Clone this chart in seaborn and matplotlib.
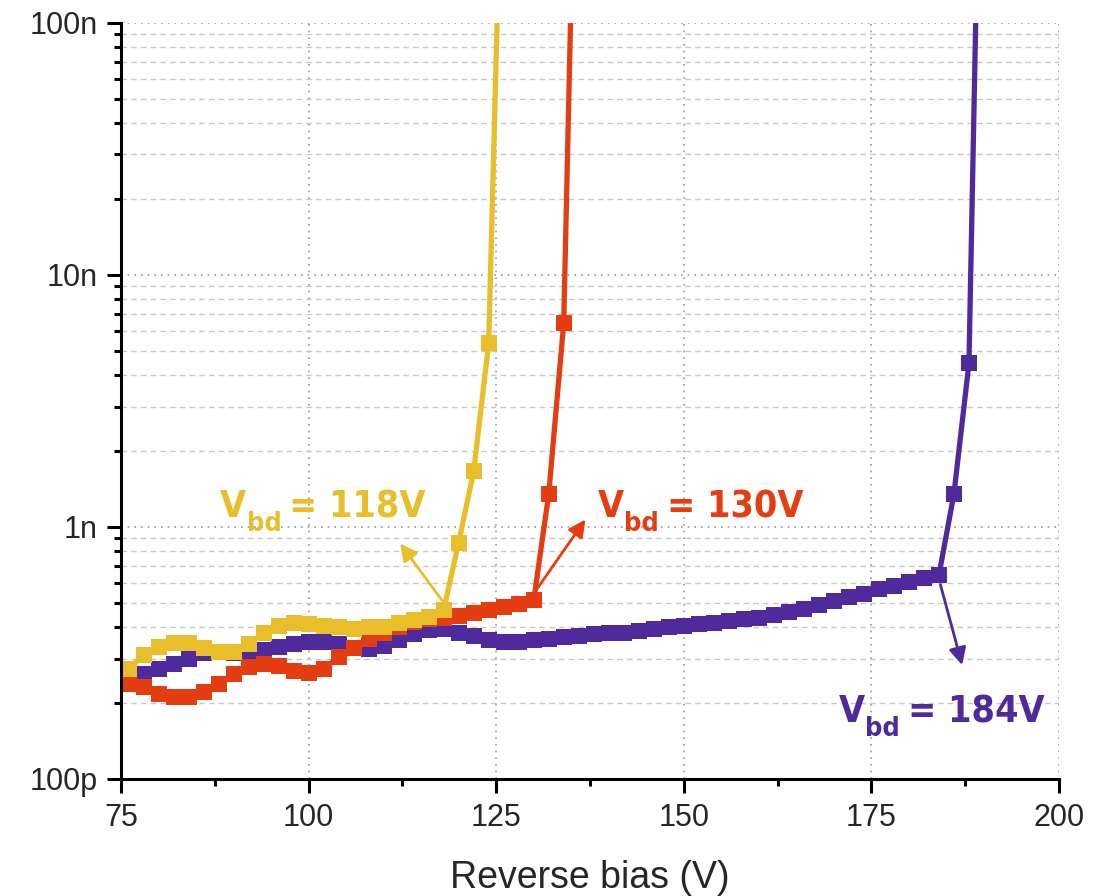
import numpy as np
import pandas as pd
import matplotlib
matplotlib.use("Agg")
import matplotlib.pyplot as plt
import matplotlib.ticker as mticker
from matplotlib import font_manager as fm
import seaborn as sns

# ---------------- data (current in nA) ----------------
v_118 = [76, 78, 80, 82, 84, 86, 88, 90, 92, 94, 96, 98, 100, 102, 104, 106, 108, 110,
         112, 114, 116, 118, 120, 122, 124, 126]
i_118 = [0.274, 0.309, 0.334, 0.347, 0.345, 0.331, 0.319, 0.319, 0.343, 0.378, 0.406, 0.416,
         0.410, 0.405, 0.400, 0.395, 0.400, 0.402, 0.416, 0.427, 0.440, 0.469, 0.867, 1.66,
         5.35, 1000.0]

v_130 = [76, 78, 80, 82, 84, 86, 88, 90, 92, 94, 96, 98, 100, 102, 104, 106, 108, 110,
         112, 114, 116, 118, 120, 122, 124, 126, 128, 130, 132, 134, 136]
i_130 = [0.238, 0.231, 0.217, 0.211, 0.212, 0.222, 0.239, 0.262, 0.277, 0.285, 0.280, 0.268,
         0.264, 0.273, 0.305, 0.332, 0.359, 0.381, 0.399, 0.418, 0.430, 0.437, 0.445, 0.455,
         0.467, 0.481, 0.496, 0.511, 1.35, 6.43, 2800.0]

v_184 = [78, 80, 82, 84, 86, 88, 90, 92, 94, 96, 98, 100, 102, 104, 106, 108, 110, 112,
         114, 116, 118, 120, 122, 124, 126, 128, 130, 132, 134, 136, 138, 140, 142, 144,
         146, 148, 150, 152, 154, 156, 158, 160, 162, 164, 166, 168, 170, 172, 174, 176,
         178, 180, 182, 184, 186, 188, 190]
i_184 = [0.262, 0.272, 0.286, 0.300, 0.315, 0.318, 0.315, 0.320, 0.325, 0.333, 0.343, 0.349,
         0.349, 0.342, 0.330, 0.328, 0.338, 0.356, 0.375, 0.390, 0.395, 0.380, 0.368, 0.357,
         0.349, 0.350, 0.355, 0.360, 0.365, 0.370, 0.375, 0.379, 0.381, 0.386, 0.394, 0.399,
         0.405, 0.410, 0.416, 0.422, 0.430, 0.437, 0.448, 0.460, 0.473, 0.490, 0.510, 0.525,
         0.542, 0.567, 0.585, 0.603, 0.625, 0.644, 1.35, 4.45, 4500.0]

x_ticks = [75, 100, 125, 150, 175, 200]
y_ticks = [1e-10, 1e-9, 1e-8, 1e-7]
y_tick_labels = ["100p", "1n", "10n", "100n"]
labels = ["118V", "130V", "184V"]

c_yel = "#E8BE2A"
c_red = "#E43D12"
c_pur = "#4F2A9C"

# ---------------- style ----------------
sns.set_theme(style="white")
plt.rcParams["font.family"] = ["Liberation Sans", "DejaVu Sans"]

# look for a condensed bold face for the annotations
cond_family = None
for f in fm.fontManager.ttflist:
    is_cond = ("Narrow" in f.name) or ("Condensed" in f.fname) or ("Narrow" in f.fname)
    is_bold = f.weight in ("bold", 700, "700") or "Bold" in f.fname
    if is_cond and is_bold and "Oblique" not in f.fname and "Italic" not in f.fname:
        cond_family = f.name
        break
if cond_family is not None:
    ann_family = cond_family
    ann_size = 27
    ann_stretch = "condensed"
else:
    ann_family = "Liberation Sans"
    ann_size = 25
    ann_stretch = "normal"

fig = plt.figure(figsize=(10.94, 8.96), dpi=100)
ax = fig.add_axes([0.1106, 0.1306, 0.8574, 0.8441])
ax.set_yscale("log")

def frame(v, i):
    return pd.DataFrame({"V": v, "I": np.array(i) * 1e-9})

for v, i, c in [(v_184, i_184, c_pur), (v_130, i_130, c_red), (v_118, i_118, c_yel)]:
    sns.lineplot(data=frame(v, i), x="V", y="I", ax=ax, color=c, marker="s",
                 markersize=12, markeredgewidth=0, linewidth=3.8, sort=True)

ax.set_xlim(75, 200)
ax.set_ylim(1e-10, 1e-7)
ax.set_xticks(x_ticks)
ax.set_xticklabels([str(t) for t in x_ticks])
ax.xaxis.set_minor_locator(mticker.MultipleLocator(12.5))
ax.set_yticks(y_ticks)
ax.set_yticklabels(y_tick_labels)
ax.yaxis.set_minor_locator(mticker.LogLocator(base=10, subs=np.arange(2, 10)))
ax.yaxis.set_minor_formatter(mticker.NullFormatter())

ax.grid(which="major", axis="both", linestyle=(0, (1, 3)), color="#9a9a9a", linewidth=1.2)
ax.grid(which="minor", axis="y", linestyle=(0, (4, 3)), color="#c8c8c8", linewidth=1.0)
ax.grid(which="minor", axis="x", visible=False)

for s in ["top", "right"]:
    ax.spines[s].set_visible(False)
for s in ["left", "bottom"]:
    ax.spines[s].set_color("black")
    ax.spines[s].set_linewidth(2.2)

ax.tick_params(which="major", direction="out", length=10, width=2.2, color="black",
               labelsize=22, pad=7, left=True, bottom=True)
ax.tick_params(which="minor", direction="out", length=5, width=2.2, color="black",
               left=True, bottom=True)

ax.set_xlabel("Reverse bias (V)", fontsize=27, labelpad=20)
ax.set_ylabel("")

# ---------------- annotations ----------------
arrow_kw = dict(arrowstyle="-|>", linewidth=2.0, mutation_scale=26, shrinkA=0, shrinkB=0)
ax.annotate("", xy=(112.2, 0.86e-9), xytext=(117.8, 0.51e-9),
            arrowprops=dict(color=c_yel, **arrow_kw))
ax.annotate("", xy=(136.9, 1.07e-9), xytext=(130.3, 0.56e-9),
            arrowprops=dict(color=c_red, **arrow_kw))
ax.annotate("", xy=(187.1, 0.283e-9), xytext=(184.2, 0.59e-9),
            arrowprops=dict(color=c_pur, **arrow_kw))

renderer = fig.canvas.get_renderer()
px2pt = 72.0 / fig.dpi
txt_kw = dict(fontweight="bold", family=[ann_family, "Liberation Sans"],
              fontstretch=ann_stretch)


def vbd_label(x, y, value, color):
    t1 = ax.annotate("V", xy=(x, y), xycoords="data", xytext=(0, 0),
                     textcoords="offset points", color=color, fontsize=ann_size, **txt_kw)
    w1 = t1.get_window_extent(renderer).width * px2pt
    t2 = ax.annotate("bd", xy=(x, y), xycoords="data", xytext=(w1 + 0.5, -10),
                     textcoords="offset points", color=color,
                     fontsize=ann_size * 0.72, **txt_kw)
    w2 = t2.get_window_extent(renderer).width * px2pt
    ax.annotate("= " + value, xy=(x, y), xycoords="data", xytext=(w1 + w2 + 6, 0),
                textcoords="offset points", color=color, fontsize=ann_size, **txt_kw)


vbd_label(88.2, 1.09e-9, labels[0], c_yel)
vbd_label(138.5, 1.09e-9, labels[1], c_red)
vbd_label(170.6, 0.168e-9, labels[2], c_pur)

fig.savefig("out.png", dpi=100)
